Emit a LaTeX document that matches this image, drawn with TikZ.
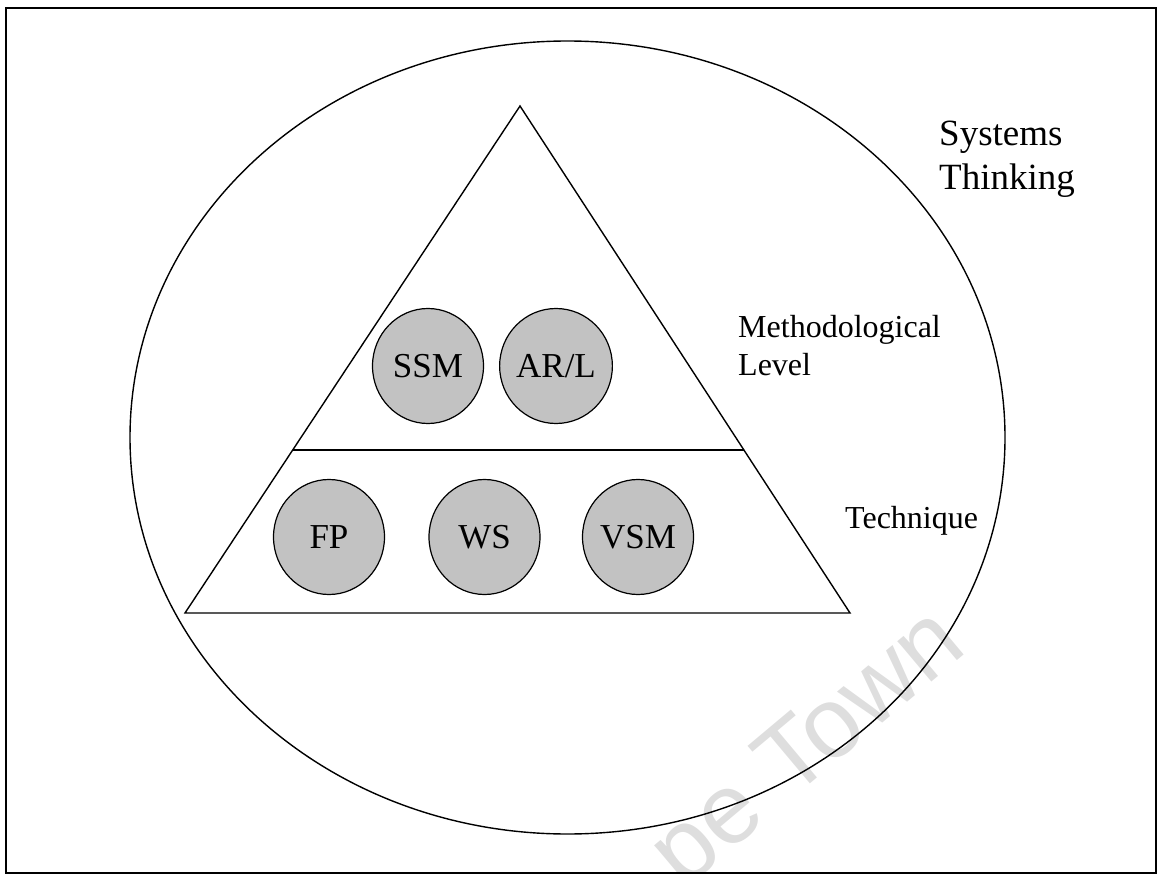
\documentclass[tikz,border=0pt]{standalone}
\usepackage{fontspec}
\setmainfont{Liberation Serif}
\newfontfamily\markfont{Liberation Sans}
\usetikzlibrary{shapes.geometric,calc}

\tikzset{
  frameline/.style={line width=1.8pt},
  outline/.style={line width=1.4pt},
  blob/.style={ellipse, draw, line width=1.2pt, fill=black!24, inner sep=0pt,
    minimum width=111pt, minimum height=115pt,
    font=\fontsize{35}{40}\selectfont, text height=23pt, text depth=0pt},
  label/.style={inner sep=0pt, align=left},
  watermark/.style={inner sep=0pt, text=black!13, rotate=40,
    font=\markfont\fontsize{100}{100}\selectfont}
}

\begin{document}
\begin{tikzpicture}[x=1pt, y=-1pt]
  \useasboundingbox (0,0) rectangle (1158,874);

  % faint repository stamp across the lower right
  \begin{scope}
    \clip (0,0) rectangle (1158,874);
    \node[watermark] (stamp) at (811,752) {pe Town};
  \end{scope}

  % outer frame
  \draw[frameline] (6,8) rectangle (1156,873);

  % systems thinking boundary
  \draw[outline] (567.5,437.5) ellipse [x radius=437.5pt, y radius=396.5pt];

  % pyramid of levels
  \coordinate (apex) at (520,106);
  \coordinate (bl) at (185,613);
  \coordinate (br) at (850,613);
  \draw[outline, line join=miter] (apex) -- (bl) -- (br) -- cycle;
  \coordinate (ml) at ($(apex)!0.6785!(bl)$);
  \coordinate (mr) at ($(apex)!0.6785!(br)$);
  \draw[outline] (ml) -- (mr);

  % methodologies
  \node[blob] (ssm) at (428,366) {SSM};
  \node[blob] (arl) at (556,366) {AR/L};

  % techniques
  \node[blob] (fp) at (329,537) {FP};
  \node[blob] (ws) at (484.5,537) {WS};
  \node[blob] (vsm) at (638,537) {VSM};

  % level labels (base anchor sits on the last line)
  \node[label, anchor=base west, font=\fontsize{37}{44}\selectfont] (st) at (939,190) {Systems\\Thinking};
  \node[label, anchor=base west, font=\fontsize{32}{38}\selectfont] (meth) at (738,375) {Methodological\\Level};
  \node[label, anchor=base west, font=\fontsize{32}{38}\selectfont] (tech) at (845,528) {Technique};
\end{tikzpicture}
\end{document}
